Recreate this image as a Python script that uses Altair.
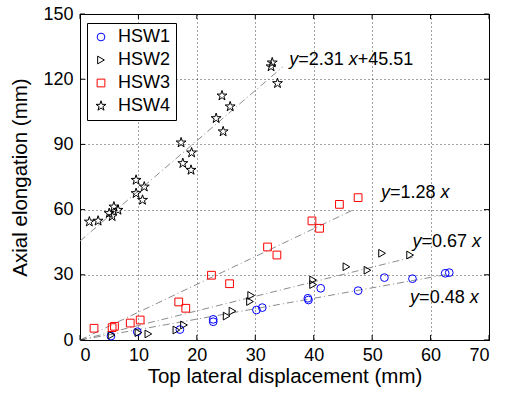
import altair as alt
import pandas as pd

# ---------------- data ----------------
series_names = ["HSW1", "HSW2", "HSW3", "HSW4"]

hsw1_x = [5.3, 9.8, 17.1, 22.8, 22.8, 30.2, 31.2, 39.0, 39.1, 41.2, 47.6, 52.1, 56.9, 62.5, 63.2]
hsw1_y = [1.8, 3.8, 4.8, 8.4, 9.5, 13.8, 14.9, 19.2, 18.4, 23.8, 22.7, 28.7, 28.2, 30.7, 31.0]

hsw2_x = [5.4, 10.0, 11.7, 16.5, 17.8, 25.1, 26.1, 29.1, 29.3, 39.9, 39.9, 45.6, 49.2, 51.7, 56.5]
hsw2_y = [2.3, 3.4, 2.8, 4.6, 6.9, 11.0, 13.3, 17.7, 20.5, 27.6, 25.5, 33.7, 32.1, 39.9, 39.1]

hsw3_x = [2.4, 5.5, 5.9, 8.6, 10.3, 16.9, 18.1, 22.5, 25.6, 32.1, 33.7, 39.7, 41.0, 44.4, 47.6]
hsw3_y = [5.4, 5.7, 6.3, 7.8, 9.2, 17.5, 14.6, 29.8, 25.9, 42.8, 39.1, 54.8, 51.4, 62.4, 65.5]

hsw4_x = [1.6, 3.1, 5.0, 5.5, 5.8, 6.5, 9.6, 9.6, 11.0, 10.7, 17.3, 19.1, 17.6, 19.0,
          24.3, 25.7, 23.3, 24.5, 32.9, 32.7, 33.8]
hsw4_y = [54.4, 54.8, 58.3, 56.9, 61.3, 59.8, 73.6, 67.5, 70.5, 64.4, 90.8, 86.2, 81.3, 78.2,
          112.4, 107.4, 102.0, 95.9, 127.6, 125.8, 118.1]

# fitted lines
fit_slopes = [0.48, 0.67, 1.28, 2.31]
fit_intercepts = [0.0, 0.0, 0.0, 45.51]
fit_xmax = [63.0, 57.0, 47.0, 34.7]

# annotation labels (italic parts flagged)
label_pieces = [
    [("y", True), ("=2.31 ", False), ("x", True), ("+45.51", False)],
    [("y", True), ("=1.28 ", False), ("x", True)],
    [("y", True), ("=0.67 ", False), ("x", True)],
    [("y", True), ("=0.48 ", False), ("x", True)],
]
label_x = [35.8, 51.5, 56.9, 56.5]
label_y = [128.9, 67.5, 45.2, 19.2]

x_ticks = [0, 10, 20, 30, 40, 50, 60, 70]
y_ticks = [0, 30, 60, 90, 120, 150]

# ---------------- build tables ----------------
rows = []
for name, xs, ys in zip(series_names, [hsw1_x, hsw2_x, hsw3_x, hsw4_x], [hsw1_y, hsw2_y, hsw3_y, hsw4_y]):
    for a, b in zip(xs, ys):
        rows.append({"series": name, "x": a, "y": b})
pts = pd.DataFrame(rows)

lrows = []
for i, (m, c, xm) in enumerate(zip(fit_slopes, fit_intercepts, fit_xmax)):
    for xx in (0.0, xm):
        lrows.append({"fit": i, "x": xx, "y": m * xx + c})
lines = pd.DataFrame(lrows)

FONT = "Liberation Sans"
FS_ANN = 18
W = {"=": 0.584, "+": 0.584, ".": 0.278, " ": 0.278, "x": 0.5, "y": 0.5}
def width(s):
    return sum(W.get(ch, 0.556) for ch in s) * FS_ANN

# five-pointed star as a custom symbol path
STAR = ("M0,-1.35L0.30,-0.42L1.28,-0.42L0.49,0.16L0.79,1.09L0,0.52"
        "L-0.79,1.09L-0.49,0.16L-1.28,-0.42L-0.30,-0.42Z")

xs_ = alt.Scale(domain=[0, 70], nice=False)
ys_ = alt.Scale(domain=[0, 150], nice=False)
xaxis = alt.Axis(values=x_ticks, title="Top lateral displacement (mm)", grid=True, ticks=False,
                 orient="bottom", labelPadding=6, titlePadding=2)
yaxis = alt.Axis(values=y_ticks, title="Axial elongation (mm)", grid=True, ticks=False,
                 orient="left", labelPadding=7, titlePadding=12)

X = alt.X("x:Q", scale=xs_, axis=xaxis)
Y = alt.Y("y:Q", scale=ys_, axis=yaxis)

leg = alt.Legend(title=None, orient="none", legendX=7, legendY=9, strokeColor="black",
                 fillColor="white", padding=5, labelFontSize=18, labelFont=FONT,
                 labelColor="black", rowPadding=5, symbolSize=60, symbolStrokeWidth=1,
                 labelOffset=8)

points = alt.Chart(pts).mark_point(filled=False, strokeWidth=1, opacity=1, size=60).encode(
    x=X, y=Y,
    color=alt.Color("series:N", scale=alt.Scale(domain=series_names,
                    range=["#0000ff", "#000000", "#ff0000", "#000000"]), legend=leg),
    shape=alt.Shape("series:N", scale=alt.Scale(domain=series_names,
                    range=["circle", "triangle-right", "square", STAR]), legend=leg),
)

fitlines = alt.Chart(lines).mark_line(color="#8c8c8c", strokeWidth=1, strokeDash=[7, 3, 1, 3]).encode(
    x=X, y=Y, detail="fit:N"
)

ann_layers = []
for pieces, lx, ly in zip(label_pieces, label_x, label_y):
    off = 0.0
    for txt, it in pieces:
        df = pd.DataFrame({"x": [lx], "y": [ly], "t": [txt.strip()]})
        kw = dict(align="left", baseline="middle", fontSize=FS_ANN, font=FONT, color="black", dx=off)
        if it:
            kw["fontStyle"] = "italic"
        ann_layers.append(alt.Chart(df).mark_text(**kw).encode(x=X, y=Y, text="t:N"))
        off += width(txt)

xt = pd.DataFrame({"x": x_ticks})
yt = pd.DataFrame({"y": y_ticks})
tick_b = alt.Chart(xt).mark_rule(color="black", strokeWidth=1).encode(x=X, y=alt.value(326), y2=alt.value(321))
tick_t = alt.Chart(xt).mark_rule(color="black", strokeWidth=1).encode(x=X, y=alt.value(0), y2=alt.value(5))
tick_l = alt.Chart(yt).mark_rule(color="black", strokeWidth=1).encode(y=Y, x=alt.value(0), x2=alt.value(5))
tick_r = alt.Chart(yt).mark_rule(color="black", strokeWidth=1).encode(y=Y, x=alt.value(409), x2=alt.value(404))

chart = alt.layer(fitlines, tick_b, tick_t, tick_l, tick_r, points, *ann_layers).properties(
    width=409, height=326,
    autosize=alt.AutoSizeParams(type="none"),
    padding={"left": 80, "top": 14, "right": 16, "bottom": 54},
    background="white",
).configure_view(stroke="black", strokeWidth=1).configure_axis(
    labelFont=FONT, titleFont=FONT, labelFontSize=18, titleFontSize=20.5,
    labelColor="black", titleColor="black", titleFontWeight="normal",
    domainColor="black", domainWidth=1,
    gridColor="black", gridDash=[1, 3], gridWidth=1, gridOpacity=0.75,
)

chart.save("out.html", embed_options={"renderer": "svg", "actions": False})
